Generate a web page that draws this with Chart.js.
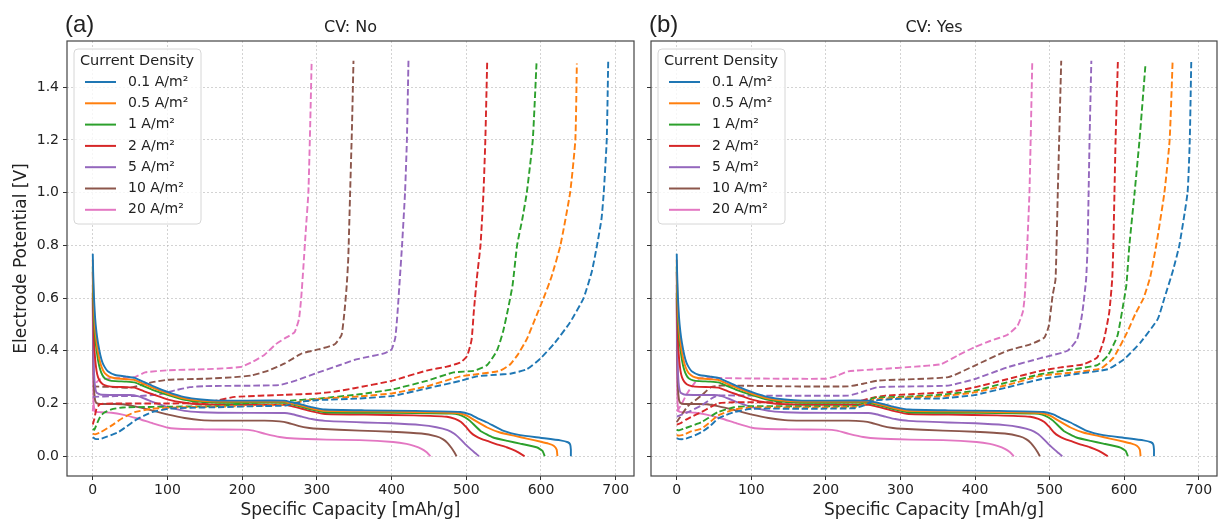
<!DOCTYPE html>
<html>
<head>
<meta charset="utf-8">
<script src="https://cdn.jsdelivr.net/npm/chart.js@4.4.1/dist/chart.umd.min.js"></script>
<style>
  html, body { margin: 0; padding: 0; background: #fff; }
  #wrap { position: relative; width: 1218px; height: 522px; overflow: hidden; }
  canvas { position: absolute; top: 0; }
</style>
</head>
<body>
<div id="wrap">
  <canvas id="left" width="640" height="522" style="left:0"></canvas>
  <canvas id="right" width="618" height="522" style="left:600px"></canvas>
</div>
<script>
// tick labels
const xTicks = [0, 100, 200, 300, 400, 500, 600, 700];
const yTicks = [0, 0.2, 0.4, 0.6, 0.8, 1.0, 1.2, 1.4];

const rates = ["0.1 A/m²", "0.5 A/m²", "1 A/m²", "2 A/m²", "5 A/m²", "10 A/m²", "20 A/m²"];

// discharge curves (solid) [capacity mAh/g, potential V] - same in both panels
const dis01 = [[0,0.768],[0.5,0.70],[1.5,0.61],[3,0.53],[5,0.47],[7,0.43],[10,0.385],[13,0.355],[16,0.338],[20,0.322],[30,0.308],[45,0.302],[56,0.297],[68,0.282],[79,0.268],[101,0.243],[123,0.224],[145,0.215],[168,0.211],[257,0.211],[266,0.205],[280,0.196],[293,0.186],[311,0.177],[364,0.174],[430,0.172],[492,0.168],[505,0.159],[516,0.143],[528,0.128],[550,0.096],[572,0.080],[599,0.070],[626,0.060],[636,0.053],[639,0.045],[640,0.025],[640,0]];
const dis05 = [[0,0.745],[0.5,0.66],[1.5,0.565],[3,0.49],[5,0.435],[7,0.395],[10,0.355],[13,0.33],[16,0.315],[22,0.302],[30,0.296],[45,0.292],[56,0.289],[68,0.274],[79,0.261],[101,0.237],[123,0.219],[145,0.21],[168,0.207],[257,0.207],[266,0.201],[280,0.191],[293,0.181],[311,0.172],[364,0.170],[430,0.168],[480,0.165],[492,0.162],[502,0.152],[510,0.138],[528,0.109],[545,0.09],[565,0.077],[581,0.067],[600,0.055],[610,0.048],[617,0.04],[621,0.025],[622,0]];
const dis1 = [[0,0.72],[0.5,0.62],[1.5,0.525],[3,0.455],[5,0.405],[7,0.365],[10,0.328],[13,0.307],[16,0.296],[22,0.288],[30,0.285],[45,0.283],[56,0.28],[68,0.266],[79,0.253],[101,0.232],[123,0.214],[145,0.206],[168,0.203],[257,0.203],[266,0.197],[280,0.187],[293,0.177],[311,0.167],[364,0.165],[430,0.164],[480,0.162],[490,0.158],[498,0.148],[505,0.134],[519,0.096],[536,0.071],[555,0.058],[572,0.048],[595,0.033],[602,0.02],[605,0]];
const dis2 = [[0,0.70],[0.5,0.56],[1.5,0.45],[3,0.375],[5,0.325],[7,0.3],[10,0.283],[14,0.272],[20,0.266],[30,0.263],[45,0.262],[56,0.26],[68,0.247],[79,0.236],[101,0.215],[123,0.203],[145,0.197],[168,0.195],[257,0.195],[266,0.19],[280,0.18],[293,0.17],[311,0.16],[364,0.158],[430,0.155],[474,0.15],[485,0.142],[493,0.13],[500,0.11],[506,0.09],[512,0.077],[520,0.066],[530,0.056],[542,0.044],[554,0.034],[566,0.02],[578,0]];
const dis5 = [[0,0.65],[0.5,0.45],[1.5,0.33],[3,0.265],[5,0.242],[10,0.234],[30,0.232],[50,0.232],[60,0.228],[70,0.218],[80,0.206],[101,0.186],[123,0.172],[145,0.167],[168,0.165],[257,0.164],[266,0.16],[280,0.15],[293,0.141],[311,0.134],[364,0.128],[400,0.125],[440,0.118],[460,0.11],[475,0.099],[484,0.085],[492,0.065],[500,0.042],[507,0.024],[512,0.012],[517,0]];
const dis10 = [[0,0.62],[0.5,0.40],[1.5,0.265],[3,0.215],[5,0.202],[10,0.198],[30,0.198],[40,0.197],[55,0.19],[79,0.174],[101,0.158],[123,0.145],[145,0.137],[168,0.135],[230,0.135],[250,0.132],[262,0.126],[275,0.115],[290,0.107],[302,0.104],[357,0.097],[400,0.093],[440,0.086],[460,0.075],[469,0.064],[475,0.05],[480,0.032],[484,0.015],[487,0]];
const dis20 = [[0,0.60],[0.3,0.35],[1,0.21],[3,0.17],[10,0.167],[25,0.165],[40,0.158],[60,0.143],[80,0.125],[101,0.108],[120,0.103],[150,0.102],[200,0.101],[215,0.097],[231,0.085],[250,0.073],[270,0.067],[313,0.063],[357,0.061],[402,0.054],[420,0.047],[430,0.039],[440,0.028],[447,0.015],[452,0]];

// charge curves (dashed), CV: No
const chgNo01 = [[0,0.072],[3,0.066],[10,0.065],[20,0.075],[34,0.091],[45,0.112],[56,0.135],[68,0.153],[79,0.167],[101,0.18],[130,0.184],[168,0.186],[220,0.19],[257,0.192],[270,0.2],[285,0.209],[302,0.213],[357,0.219],[402,0.229],[447,0.257],[492,0.286],[514,0.303],[540,0.309],[559,0.313],[581,0.33],[599,0.37],[617,0.425],[639,0.508],[657,0.60],[668,0.70],[675,0.80],[681,0.90],[684,1.0],[688,1.2],[690,1.5]];
const chgNo05 = [[0,0.085],[3,0.083],[10,0.09],[25,0.116],[40,0.145],[56,0.167],[79,0.18],[123,0.186],[200,0.19],[257,0.195],[270,0.202],[285,0.211],[310,0.219],[357,0.227],[402,0.239],[447,0.265],[492,0.303],[514,0.311],[545,0.324],[559,0.349],[570,0.39],[581,0.444],[592,0.52],[603,0.596],[614,0.68],[626,0.80],[639,1.0],[646,1.2],[648,1.49]];
const chgNo1 = [[0,0.104],[2,0.10],[5,0.12],[10,0.15],[15,0.165],[25,0.178],[40,0.185],[100,0.188],[170,0.19],[200,0.2],[260,0.21],[300,0.218],[357,0.235],[402,0.254],[447,0.286],[483,0.318],[510,0.324],[528,0.346],[541,0.40],[549,0.47],[556,0.56],[562,0.65],[568,0.80],[575,0.90],[581,1.0],[589,1.2],[594,1.49]];
const chgNo2 = [[0,0.12],[2,0.14],[5,0.18],[10,0.198],[30,0.2],[100,0.2],[150,0.202],[168,0.212],[190,0.225],[257,0.233],[300,0.238],[324,0.245],[350,0.258],[400,0.286],[447,0.325],[474,0.34],[492,0.355],[501,0.38],[507,0.44],[510,0.546],[514,0.672],[519,0.80],[523,1.0],[525.5,1.2],[528,1.5]];
const chgNo5 = [[0,0.225],[30,0.228],[60,0.228],[90,0.235],[110,0.25],[130,0.262],[150,0.266],[250,0.27],[275,0.29],[300,0.316],[330,0.345],[350,0.365],[370,0.378],[390,0.39],[400,0.405],[405,0.45],[408,0.546],[411,0.672],[414,0.80],[418,1.0],[420.5,1.2],[422.6,1.5]];
const chgNo10 = [[0,0.265],[20,0.263],[50,0.26],[65,0.27],[80,0.281],[100,0.29],[150,0.294],[190,0.30],[212,0.306],[235,0.325],[257,0.352],[280,0.39],[302,0.405],[324,0.425],[333,0.46],[337,0.55],[340,0.65],[342,0.75],[344.5,1.0],[347,1.25],[349,1.5]];
const chgNo20 = [[0,0.17],[2,0.24],[5,0.28],[10,0.292],[30,0.296],[56,0.30],[70,0.318],[100,0.326],[150,0.33],[180,0.334],[200,0.34],[215,0.36],[230,0.385],[245,0.425],[257,0.447],[270,0.47],[276,0.52],[279,0.6],[282,0.72],[285,0.85],[288.6,1.0],[291,1.25],[293,1.5]];

// charge curves (dashed), CV: Yes
const chgYes01 = [[0,0.068],[3,0.065],[10,0.065],[20,0.074],[33,0.091],[45,0.115],[55,0.142],[66,0.156],[77,0.167],[100,0.18],[167,0.18],[238,0.182],[250,0.192],[265,0.211],[300,0.218],[354,0.219],[399,0.232],[443,0.261],[488,0.292],[533,0.311],[578,0.33],[600,0.368],[622,0.432],[645,0.52],[654,0.60],[665,0.70],[674,0.80],[685,1.0],[688,1.2],[690,1.5]];
const chgYes05 = [[0,0.08],[3,0.078],[10,0.082],[20,0.095],[33,0.104],[45,0.13],[55,0.154],[77,0.177],[100,0.185],[238,0.186],[250,0.195],[265,0.215],[300,0.222],[354,0.227],[399,0.242],[443,0.27],[488,0.305],[533,0.318],[569,0.333],[586,0.375],[604,0.47],[615,0.54],[626,0.6],[635,0.68],[643,0.80],[654,1.0],[661,1.2],[665,1.5]];
const chgYes1 = [[0,0.1],[3,0.098],[10,0.105],[20,0.115],[33,0.129],[55,0.167],[77,0.186],[100,0.19],[238,0.19],[250,0.2],[265,0.222],[300,0.225],[354,0.233],[399,0.248],[443,0.28],[488,0.311],[533,0.33],[564,0.346],[578,0.381],[591,0.457],[600,0.596],[603,0.65],[607,0.80],[614,1.0],[620.6,1.2],[628.7,1.49]];
const chgYes2 = [[0,0.12],[5,0.125],[12,0.138],[20,0.15],[33,0.167],[55,0.2],[77,0.205],[100,0.205],[238,0.205],[260,0.22],[280,0.23],[364,0.243],[399,0.261],[443,0.292],[488,0.324],[515,0.337],[546,0.349],[564,0.375],[573,0.444],[580,0.546],[584,0.672],[585.5,0.8],[587,1.0],[588.5,1.2],[591.6,1.5]];
const chgYes5 = [[0,0.15],[15,0.167],[33,0.192],[46,0.218],[55,0.23],[100,0.23],[230,0.23],[250,0.245],[270,0.262],[364,0.268],[399,0.292],[443,0.337],[488,0.372],[524,0.40],[537,0.444],[544,0.546],[549,0.672],[551,0.8],[553.6,1.2],[556,1.5]];
const chgYes10 = [[0,0.13],[15,0.19],[33,0.23],[46,0.262],[60,0.268],[150,0.265],[230,0.265],[250,0.275],[270,0.287],[364,0.30],[399,0.343],[443,0.40],[475,0.425],[493,0.45],[499,0.495],[504,0.609],[508,0.672],[511,1.0],[515.6,1.5]];
const chgYes20 = [[0,0.17],[5,0.19],[15,0.243],[29,0.294],[42,0.297],[100,0.295],[200,0.294],[215,0.305],[230,0.322],[270,0.33],[320,0.34],[354,0.349],[376,0.381],[399,0.413],[421,0.438],[443,0.46],[457,0.495],[464,0.546],[466.5,0.6],[468,0.672],[473,1.0],[476.8,1.5]];

const discharge = [dis01, dis05, dis1, dis2, dis5, dis10, dis20];
const chargeNo = [chgNo01, chgNo05, chgNo1, chgNo2, chgNo5, chgNo10, chgNo20];
const chargeYes = [chgYes01, chgYes05, chgYes1, chgYes2, chgYes5, chgYes10, chgYes20];

const colors = ["#1f77b4", "#ff7f0e", "#2ca02c", "#d62728", "#9467bd", "#8c564b", "#e377c2"];
const FONT = '"DejaVu Sans", sans-serif';

function toPts(arr) {
  return arr.map(p => ({ x: p[0], y: p[1] }));
}

function buildDatasets(charge) {
  const sets = [];
  rates.forEach((r, i) => {
    sets.push({
      label: r, data: toPts(discharge[i]), borderColor: colors[i],
      borderWidth: 1.9, pointRadius: 0, tension: 0.15, solid: true
    });
    sets.push({
      label: r + " charge", data: toPts(charge[i]), borderColor: colors[i],
      borderWidth: 1.9, borderDash: [6.5, 3], pointRadius: 0, tension: 0.15
    });
  });
  return sets;
}

// frame, title, panel tag and legend box
const panelDecor = {
  id: "panelDecor",
  afterDraw(chart, args, opts) {
    const { ctx, chartArea: a } = chart;
    ctx.save();
    ctx.strokeStyle = "#444";
    ctx.lineWidth = 1.2;
    ctx.strokeRect(a.left, a.top, a.right - a.left, a.bottom - a.top);

    ctx.fillStyle = "#222";
    ctx.textBaseline = "middle";
    ctx.textAlign = "center";
    ctx.font = "16px " + FONT;
    ctx.fillText(opts.title, (a.left + a.right) / 2, 28);

    ctx.textAlign = "left";
    ctx.font = '24px "Liberation Sans", sans-serif';
    ctx.fillText(opts.tag, a.left - 2, 25);

    // legend
    const bx = a.left + 7, by = a.top + 8, bw = 127, bh = 175;
    ctx.beginPath();
    ctx.roundRect(bx, by, bw, bh, 4);
    ctx.fillStyle = "rgba(255,255,255,0.8)";
    ctx.fill();
    ctx.strokeStyle = "#d6d6d6";
    ctx.lineWidth = 1;
    ctx.stroke();

    ctx.fillStyle = "#222";
    ctx.font = "14.5px " + FONT;
    ctx.fillText("Current Density", bx + 6, by + 12);
    ctx.font = "14px " + FONT;
    const solids = chart.data.datasets.filter(d => d.solid);
    solids.forEach((d, i) => {
      const y = by + 33 + i * 21.3;
      ctx.strokeStyle = d.borderColor;
      ctx.lineWidth = 2;
      ctx.beginPath();
      ctx.moveTo(bx + 11, y);
      ctx.lineTo(bx + 42, y);
      ctx.stroke();
      ctx.fillStyle = "#222";
      ctx.fillText(d.label, bx + 54, y);
    });
    ctx.restore();
  }
};

const gridOpts = {
  color: "rgba(175,175,175,0.7)",
  lineWidth: 0.8,
  tickLength: 4,
  tickColor: "#333",
  tickWidth: 1,
  tickBorderDash: []
};

function makeChart(id, charge, title, tag, showY, yWidth, padRight) {
  const ctx = document.getElementById(id).getContext("2d");
  return new Chart(ctx, {
    type: "line",
    data: { datasets: buildDatasets(charge) },
    options: {
      responsive: false,
      animation: false,
      layout: { padding: { top: 41, right: padRight, left: 0, bottom: 0 } },
      plugins: {
        legend: { display: false },
        tooltip: { enabled: false },
        panelDecor: { title: title, tag: tag }
      },
      scales: {
        x: {
          type: "linear",
          min: -34.5,
          max: 724.5,
          afterBuildTicks: s => { s.ticks = xTicks.map(v => ({ value: v })); },
          afterFit: s => { s.height = 46; },
          ticks: {
            callback: v => String(v),
            font: { family: FONT, size: 14 },
            color: "#222",
            padding: 2,
            maxRotation: 0,
            autoSkip: false
          },
          grid: gridOpts,
          border: { display: false, dash: [2, 2] },
          title: {
            display: true,
            text: "Specific Capacity [mAh/g]",
            font: { family: FONT, size: 17 },
            color: "#222",
            padding: { top: 0, bottom: 1 }
          }
        },
        y: {
          type: "linear",
          min: -0.075,
          max: 1.575,
          afterBuildTicks: s => { s.ticks = yTicks.map(v => ({ value: v })); },
          afterFit: s => { s.width = yWidth; },
          ticks: {
            display: showY,
            callback: v => v.toFixed(1),
            font: { family: FONT, size: 14 },
            color: "#222",
            padding: 4,
            autoSkip: false
          },
          grid: gridOpts,
          border: { display: false, dash: [2, 2] },
          title: {
            display: showY,
            text: "Electrode Potential [V]",
            font: { family: FONT, size: 17 },
            color: "#222",
            padding: { top: 11, bottom: 0 }
          }
        }
      }
    },
    plugins: [panelDecor]
  });
}

makeChart("left", chargeNo, "CV: No", "(a)", true, 67, 6);
makeChart("right", chargeYes, "CV: Yes", "(b)", false, 51, 1);
</script>
</body>
</html>
